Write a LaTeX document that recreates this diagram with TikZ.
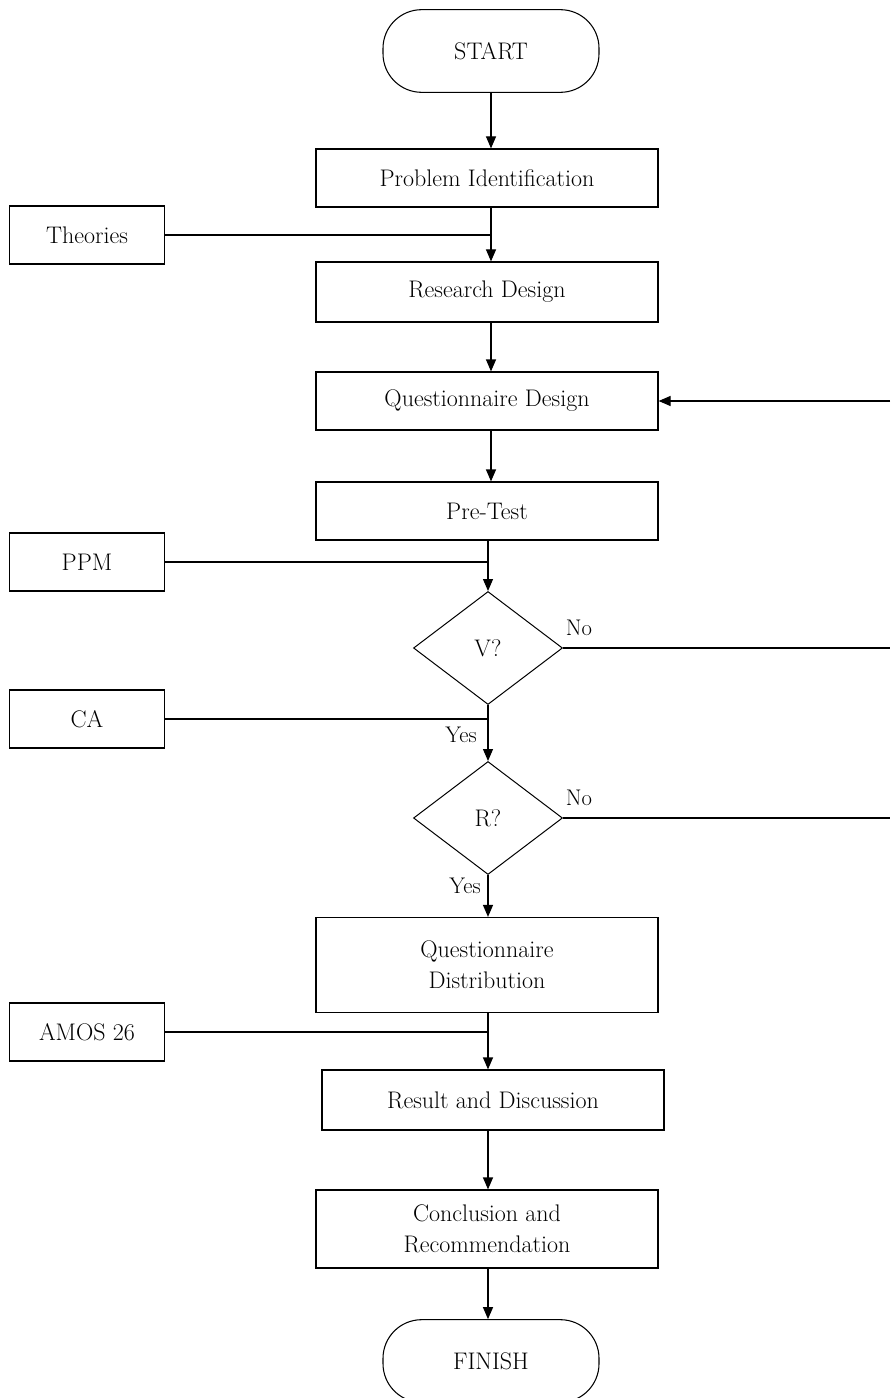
\documentclass[tikz,border=0pt]{standalone}
\usetikzlibrary{shapes.geometric,arrows.meta}
\begin{document}
\begin{tikzpicture}[x=0.75pt,y=-0.75pt,
  every node/.style={font=\fontsize{18}{23}\selectfont, inner sep=0pt},
  mainbox/.style={draw, line width=0.9pt, minimum width=256.5pt, align=center},
  sidebox/.style={draw, line width=0.9pt, minimum width=116.25pt, minimum height=43.5pt},
  term/.style={draw, line width=0.8pt, rounded corners=29pt, minimum width=162pt, minimum height=62pt},
  decide/.style={draw, line width=0.75pt, diamond, minimum width=111.75pt, minimum height=84.75pt, inner sep=0pt},
  conn/.style={line width=0.9pt},
  arr/.style={line width=0.9pt, -{Triangle[length=9pt,width=7.5pt]}},
  lbl/.style={font=\fontsize{17}{18}\selectfont}
]
\useasboundingbox (0,0) rectangle (890,1398);
% main column
\node[term] (start) at (491,51) {START};
\node[mainbox, minimum height=43.5pt] (pi) at (487,178) {Problem Identification};
\node[mainbox, minimum height=45pt] (rd) at (487,292) {Research Design};
\node[mainbox, minimum height=43.5pt] (qd) at (487,401) {Questionnaire Design};
\node[mainbox, minimum height=43.5pt] (pt) at (487,511) {Pre-Test};
\node[decide] (v) at (488,648) {V?};
\node[decide] (r) at (488,818) {R?};
\node[mainbox, minimum height=71.25pt] (qdist) at (487,965) {Questionnaire\\Distribution};
\node[mainbox, minimum height=45pt] (res) at (493,1100) {Result and Discussion};
\node[mainbox, minimum height=58.5pt] (con) at (487,1229) {Conclusion and\\Recommendation};
\node[term] (fin) at (491,1361) {FINISH};
% side boxes
\node[sidebox] (th) at (87,235) {Theories};
\node[sidebox] (ppm) at (87,562) {PPM};
\node[sidebox] (ca) at (87,719) {CA};
\node[sidebox] (amos) at (87,1032) {AMOS 26};
% right edge coordinate
\coordinate (e1) at (890,401);
% vertical arrows
\draw[arr] (start.south) -- (start.south |- pi.north);
\draw[arr] (pi.south -| start.south) -- (rd.north -| start.south);
\draw[arr] (rd.south -| start.south) -- (qd.north -| start.south);
\draw[arr] (qd.south -| start.south) -- (pt.north -| start.south);
\draw[arr] (pt.south -| v.north) -- (v.north);
\draw[arr] (v.south) -- (r.north);
\draw[arr] (r.south) -- (qdist.north -| r.south);
\draw[arr] (qdist.south -| r.south) -- (res.north -| r.south);
\draw[arr] (res.south -| r.south) -- (con.north -| r.south);
\draw[arr] (con.south -| r.south) -- (fin.north -| r.south);
% side inputs
\draw[conn] (th.east) -- (th.east -| start.south);
\draw[conn] (ppm.east) -- (ppm.east -| v.north);
\draw[conn] (ca.east) -- (ca.east -| v.south);
\draw[conn] (amos.east) -- (amos.east -| r.south);
% loops
\draw[arr] (e1) -- (qd.east);
\draw[conn] (v.east) -- (v.east -| e1);
\draw[conn] (r.east) -- (r.east -| e1);
% labels
\node[lbl] (no1) at (579,628) {No};
\node[lbl] (no2) at (579,798) {No};
\node[lbl] (yes1) at (461,735) {Yes};
\node[lbl] (yes2) at (465,886) {Yes};
\end{tikzpicture}
\end{document}
